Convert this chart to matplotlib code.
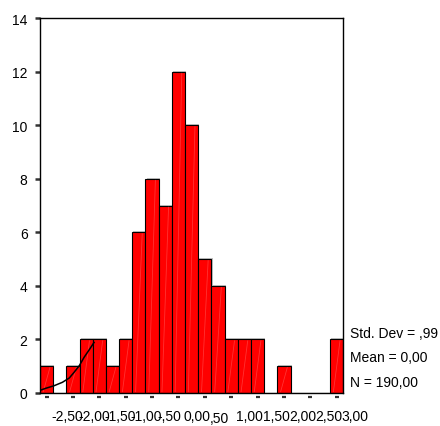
import matplotlib
matplotlib.use('Agg')
import matplotlib.pyplot as plt
import matplotlib.transforms as mtransforms
import matplotlib.patheffects as pe

plt.rcParams['font.family'] = ['Liberation Sans', 'DejaVu Sans']

# Histogram data (bin centers, bin width 0.25)
bin_centers = [-2.5, -2.25, -2.0, -1.75, -1.5, -1.25, -1.0, -0.75, -0.5, -0.25,
               0.0, 0.25, 0.5, 0.75, 1.0, 1.25, 1.5, 1.75, 2.0, 2.25, 2.5, 2.75, 3.0]
counts = [1, 0, 1, 2, 2, 1, 2, 6, 8, 7, 12, 10, 5, 4, 2, 2, 2, 0, 1, 0, 0, 0, 2]
bin_width = 0.25

# Visible part of the normal curve
curve_x = [-2.64, -2.51, -2.36, -2.20, -2.07, -1.98, -1.88, -1.79, -1.69, -1.60]
curve_y = [0.09, 0.18, 0.27, 0.40, 0.56, 0.77, 1.02, 1.33, 1.62, 1.89]

xtick_vals = [-2.5, -2.0, -1.5, -1.0, -0.5, 0.0, 0.5, 1.0, 1.5, 2.0, 2.5, 3.0]
xtick_labels = ['-2,50', '-2,00', '-1,50', '-1,00', '-,50', '0,00', ',50',
                '1,00', '1,50', '2,00', '2,50', '3,00']
ytick_vals = [0, 2, 4, 6, 8, 10, 12, 14]

stats_lines = ['Std. Dev = ,99', 'Mean = 0,00', 'N = 190,00']

W, H = 440, 427
fig = plt.figure(figsize=(W / 100, H / 100), dpi=100)
fig.patch.set_facecolor('white')
ax = fig.add_axes([40 / W, 33 / H, 303.3 / W, 374.7 / H])

ax.bar(bin_centers, counts, width=bin_width, color='#FF0000', edgecolor='black',
       linewidth=0.8, zorder=2,
       path_effects=[pe.SimplePatchShadow(offset=(0.8, 0.8), shadow_rgbFace='#808080', alpha=0.5),
                     pe.Normal()])

# faint diagonal highlight inside each bar
for c, h in zip(bin_centers, counts):
    if h > 0:
        left = c - bin_width / 2
        ax.plot([left + 0.25 * bin_width, left + 0.75 * bin_width], [0.05, h - 0.05],
                color='white', alpha=0.2, lw=0.6, zorder=3)

ax.plot(curve_x, curve_y, color='black', lw=1.1, zorder=4)

ax.set_xlim(-2.625, 3.125)
ax.set_ylim(0, 14)
ax.set_yticks(ytick_vals)
ax.set_yticklabels([str(v) for v in ytick_vals])
ax.tick_params(axis='y', length=3.5, width=1.8, color='#333333', pad=5.5, labelsize=10)
ax.set_xticks([])
for s in ax.spines.values():
    s.set_linewidth(1.0)
    s.set_color('black')

# x tick marks (small, slightly detached) and staggered labels
trans = ax.get_xaxis_transform()
mark_off = mtransforms.ScaledTranslation(0, -3.5 / 100, fig.dpi_scale_trans)
ax.plot(xtick_vals, [0] * len(xtick_vals), transform=trans + mark_off, marker='_',
        ms=3, mew=1.6, ls='none', color='#333333', clip_on=False)
for v, lab in zip(xtick_vals, xtick_labels):
    dy = -29 if lab == ',50' else -27
    off = mtransforms.ScaledTranslation(5.0 / 100, dy / 100, fig.dpi_scale_trans)
    ax.text(v, 0, lab, transform=trans + off, ha='left', va='baseline', fontsize=10,
            clip_on=False)

baselines = [338, 361.7, 386.7]
for txt, by in zip(stats_lines, baselines):
    fig.text(350 / W, (H - by) / H, txt, fontsize=10, ha='left', va='baseline')

fig.savefig('out.png', dpi=100, facecolor='white')
